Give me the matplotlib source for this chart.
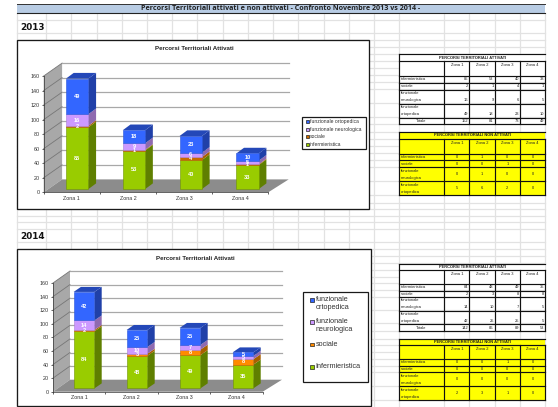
import matplotlib
matplotlib.use("Agg")
import matplotlib.pyplot as plt
from matplotlib.patches import Polygon, Rectangle

plt.rcParams['font.family'] = ['Liberation Sans', 'DejaVu Sans']

# ---------- data ----------
zones = ['Zona 1', 'Zona 2', 'Zona 3', 'Zona 4']
series = ['infermieristica', 'sociale', 'funzionale\nneurologica', 'funzionale\nortopedica']
legend_2013 = ['funzionale ortopedica', 'funzionale neurologica', 'sociale', 'infermieristica']
legend_2014 = ['funzionale\nortopedica', 'funzionale\nneurologica', 'sociale', 'Infermieristica']

inf_2013 = [85, 53, 40, 33]
soc_2013 = [2, 1, 4, 1]
neu_2013 = [16, 9, 6, 5]
ort_2013 = [49, 18, 23, 10]
tot_2013 = [152, 81, 73, 49]

inf_2014 = [84, 48, 49, 35]
soc_2014 = [2, 3, 8, 8]
neu_2014 = [14, 10, 7, 5]
ort_2014 = [42, 25, 25, 5]
tot_2014 = [142, 86, 89, 53]

non_inf_2013 = [0, 1, 0, 0]
non_soc_2013 = [0, 0, 1, 0]
non_neu_2013 = [0, 1, 0, 0]
non_ort_2013 = [5, 6, 2, 0]

non_inf_2014 = [0, 0, 1, 0]
non_soc_2014 = [0, 0, 0, 0]
non_neu_2014 = [0, 0, 0, 0]
non_ort_2014 = [2, 3, 1, 0]

y_ticks = [0, 20, 40, 60, 80, 100, 120, 140, 160]

sheet_title = 'Percorsi Territoriali attivati e non attivati - Confronto Novembre 2013 vs 2014 -'
chart_title = 'Percorsi Territoriali Attivati'
table_active = 'PERCORSI TERRITORIALI ATTIVATI'
table_inactive = 'PERCORSI TERRITORIALI NON ATTIVATI'

# ---------- styles ----------
W, H = 558, 407
FRONT = ['#99cc00', '#ff8a00', '#cc99ff', '#3366ff']
FRONT_13 = ['#99cc00', '#c86a00', '#cc99ff', '#3366ff']
EDGE = ['#6f9400', '#b86400', '#a87fd6', '#2a55d8']
SIDE = ['#5f7f00', '#a86000', '#8f6ab0', '#2040a8']
TOP = '#2448b8'
GRID = '#e2e2e2'

fig = plt.figure(figsize=(W / 100, H / 100), dpi=100, facecolor='white')
bg = fig.add_axes([0, 0, 1, 1])
bg.set_xlim(0, W)
bg.set_ylim(H, 0)
bg.axis('off')

# ---------- spreadsheet grid ----------
col_x = [17.3, 46, 71.3, 96.7, 121.7, 147, 172.3, 197.3, 222.7, 248, 273, 298.3,
         323.7, 349, 374.3, 399.3, 444.3, 469.3, 494.7, 520, 545]
row_y = [20, 33.3, 40, 46.7, 54, 61, 68, 75, 82.3, 89.3, 103.3, 117.3, 124.3, 131.7,
         138.7, 145.7, 153, 160, 167.3, 181.3, 195.3, 202.5, 209.3, 215.5, 222.3, 229,
         242.3, 249.3, 256.3, 263.3, 270, 276.7, 283.3, 290, 296.7, 310, 323.3, 331,
         338.5, 345, 352, 359, 365.7, 372.3, 386.3, 400]
for x in col_x:
    bg.plot([x, x], [13, 407], color=GRID, lw=0.9, zorder=1)
for y in row_y:
    bg.plot([17.3, 545], [y, y], color=GRID, lw=0.9, zorder=1)

bg.add_patch(Rectangle((17.3, 4), 527.7, 9.3, fc='#b8cce4', ec='none', zorder=2))
bg.plot([17.3, 545], [4, 4], color='#333333', lw=0.7, zorder=3)
bg.plot([17.3, 545], [13.3, 13.3], color='#222222', lw=0.8, zorder=3)
bg.text(281, 8.7, sheet_title, family='Open Sans', weight='bold', fontsize=5.1,
        ha='center', va='center', color='#222222', zorder=4)
bg.text(20, 27.8, '2013', family='DejaVu Sans', weight='bold', fontsize=6.4,
        ha='left', va='center', color='#111111', zorder=4)
bg.text(20, 236.8, '2014', family='DejaVu Sans', weight='bold', fontsize=6.4,
        ha='left', va='center', color='#111111', zorder=4)


# ---------- 3D-looking charts ----------
def chart(frame, plane, wall, bar, values, title_xy, title_fs, front_cols):
    fx0, fy0, fx1, fy1 = frame
    bg.add_patch(Rectangle((fx0, fy0), fx1 - fx0, fy1 - fy0, fc='white', ec='#1a1a1a',
                           lw=0.95, zorder=5))
    bg.text(*title_xy, chart_title, weight='bold', fontsize=title_fs, ha='center',
            va='center', color='#222222', zorder=6)

    x0, x1, y0, y160 = plane
    ax = fig.add_axes([x0 / W, 1 - y0 / H, (x1 - x0) / W, (y0 - y160) / H], zorder=3)
    ax.patch.set_alpha(0)
    ax.set_xlim(0, 4)
    ax.set_ylim(0, 160)
    ux = (x1 - x0) / 4
    uy = (y0 - y160) / 160
    dx, dy, dxr = wall[0] / ux, wall[1] / uy, wall[2] / ux

    ax.add_patch(Polygon([(dx, dy), (4 + dxr, dy), (4 + dxr, 160 + dy), (dx, 160 + dy)],
                         fc='white', ec='none', clip_on=False, zorder=1))
    ax.add_patch(Polygon([(0, 0), (0, 160), (dx, 160 + dy), (dx, dy)],
                         fc='#a8a8a8', ec='none', clip_on=False, zorder=1))
    ax.add_patch(Polygon([(0, 0), (4, 0), (4 + dxr, dy), (dx, dy)],
                         fc='#8c8c8c', ec='none', clip_on=False, zorder=1.5))
    for t in y_ticks[1:]:
        ax.plot([0, dx], [t, t + dy], color='#777777', lw=0.6, clip_on=False, zorder=2)
        ax.plot([dx, 4 + dxr], [t + dy, t + dy], color='#a8a8a8', lw=0.9, clip_on=False, zorder=2)

    off_x, off_y, width, depth_x, depth_y, step = bar
    bx, by = depth_x / ux, depth_y / uy
    w = width / ux
    oy = off_y / uy
    for i in range(len(zones)):
        left = (i + 0.5) * step + off_x / ux - w / 2
        bottom = oy
        for k, vals in enumerate(values):
            v = vals[i]
            ax.add_patch(Polygon([(left + w, bottom), (left + w + bx, bottom + by),
                                  (left + w + bx, bottom + v + by), (left + w, bottom + v)],
                                 fc=SIDE[k], ec='none', clip_on=False, zorder=3))
            ax.add_patch(Rectangle((left, bottom), w, v, fc=front_cols[k], ec=EDGE[k], lw=0.4,
                                   clip_on=False, zorder=4))
            ax.text(left + w / 2, bottom + v / 2, str(v), color='white', weight='bold',
                    fontsize=4.1, ha='center', va='center', zorder=6)
            bottom += v
        ax.add_patch(Polygon([(left, bottom), (left + w, bottom), (left + w + bx, bottom + by),
                              (left + bx, bottom + by)], fc=TOP, ec='none', clip_on=False, zorder=3))

    ax.set_yticks(y_ticks)
    ax.set_yticklabels([str(t) for t in y_ticks], fontsize=3.9, color='#333333')
    ax.set_xticks([0, 1, 2, 3, 4])
    ax.set_xticklabels([])
    ax.set_xticks([0.5, 1.5, 2.5, 3.5], minor=True)
    ax.set_xticklabels(zones, minor=True, fontsize=3.9, color='#333333')
    ax.tick_params(axis='y', length=1.5, width=0.5, pad=1.5, color='#222222')
    ax.tick_params(axis='x', which='major', length=1.2, width=0.5, color='#222222')
    ax.tick_params(axis='x', which='minor', length=0, pad=2.6)
    for s in ('top', 'right'):
        ax.spines[s].set_visible(False)
    for s in ('left', 'bottom'):
        ax.spines[s].set_linewidth(0.5)
        ax.spines[s].set_color('#333333')


chart((17.3, 40, 368.7, 208.7), (43.7, 268.3, 192.3, 76), (18.4, 12.9, 20.4),
      (5.1, 3.2, 22.4, 7.7, 5.7, 1.011),
      [inf_2013, soc_2013, neu_2013, ort_2013], (194, 49), 4.45, FRONT_13)
chart((17.3, 249.3, 370.7, 406.3), (53, 262.7, 391.7, 283), (17, 12, 19.3),
      (4.5, 3.3, 20.8, 7.3, 5, 1.011),
      [inf_2014, soc_2014, neu_2014, ort_2014], (195.3, 258), 4.4, FRONT)


# ---------- legends ----------
def legend(box, labels, colours, sw_x, sw, ys, text_x, fs, line_gap):
    x0, y0, x1, y1 = box
    bg.add_patch(Rectangle((x0, y0), x1 - x0, y1 - y0, fc='white', ec='#1a1a1a', lw=0.9, zorder=5))
    for lab, col, y in zip(labels, colours, ys):
        bg.add_patch(Rectangle((sw_x, y - sw / 2), sw, sw, fc=col, ec='#222222', lw=0.5, zorder=6))
        for j, part in enumerate(lab.split('\n')):
            bg.text(text_x, y + j * line_gap, part, fontsize=fs, ha='left', va='center',
                    color='#333333', zorder=6)


legend((301.7, 117.3, 366, 148.7), legend_2013, FRONT_13[::-1], 305.6, 3,
       [121.5, 129, 136.7, 144.3], 309.5, 3.65, 0)
legend((303, 292, 368.3, 382), legend_2014, FRONT[::-1], 310, 3.6,
       [299.8, 321.8, 344.3, 366.8], 315.7, 5.2, 8)


# ---------- tables ----------
TX = [399.3, 444.3, 469.3, 494.7, 520, 545]


def table(rows_y, title, rows, fill, center):
    top = rows_y[0]
    bottom = rows_y[-1]
    bg.add_patch(Rectangle((TX[0], top), TX[-1] - TX[0],
                           (bottom if fill else rows_y[2]) - top,
                           fc=fill or 'white', ec='none', zorder=5))
    for y in rows_y:
        bg.plot([TX[0], TX[-1]], [y, y], color='#111111', lw=0.85, zorder=6)
    bg.plot([TX[0], TX[0]], [top, bottom], color='#111111', lw=0.85, zorder=6)
    for x in TX[1:]:
        bg.plot([x, x], [rows_y[1], bottom], color='#111111', lw=0.85, zorder=6)
    bg.text((TX[0] + TX[-1]) / 2, (rows_y[0] + rows_y[1]) / 2, title, weight='bold', fontsize=2.85,
            ha='center', va='center', color='#222222', zorder=7)
    for c, z in enumerate(zones):
        bg.text((TX[c + 1] + TX[c + 2]) / 2, rows_y[1] + 3.5, z, fontsize=2.9, ha='center', va='center',
                color='#222222', zorder=7)
    for r, (lab, vals) in enumerate(rows):
        ya, yb = rows_y[r + 2], rows_y[r + 3]
        if lab == 'Totale':
            bg.text(TX[0] + 22, (ya + yb) / 2, lab, fontsize=2.9, ha='center', va='center', color='#222222', zorder=7)
        else:
            parts = lab.split('\n')
            for j, part in enumerate(parts):
                bg.text(TX[0] + 1.2, yb - 3.4 - 7 * (len(parts) - 1 - j), part, fontsize=3.0, ha='left',
                        va='center', color='#222222', zorder=7)
        for c, v in enumerate(vals):
            if center:
                bg.text((TX[c + 1] + TX[c + 2]) / 2, (ya + yb) / 2, str(v), fontsize=2.9, ha='center',
                        va='center', color='#222222', zorder=7)
            else:
                bg.text(TX[c + 2] - 1, yb - 3.3, str(v), fontsize=2.9, ha='right', va='center',
                        color='#222222', zorder=7)


table([54.3, 61, 75.7, 82.7, 89.7, 103.7, 117.7, 124.3], table_active,
      list(zip(series + ['Totale'], [inf_2013, soc_2013, neu_2013, ort_2013, tot_2013])), None, False)
table([131.7, 139, 153.7, 160.3, 167.3, 181.3, 195.3], table_inactive,
      list(zip(series, [non_inf_2013, non_soc_2013, non_neu_2013, non_ort_2013])), '#ffff00', True)
table([263.7, 270.3, 284, 290.7, 297.3, 310.7, 324.3, 331], table_active,
      list(zip(series + ['Totale'], [inf_2014, soc_2014, neu_2014, ort_2014, tot_2014])), None, False)
table([338.7, 345, 359, 365.7, 372.3, 386.3, 400], table_inactive,
      list(zip(series, [non_inf_2014, non_soc_2014, non_neu_2014, non_ort_2014])), '#ffff00', True)

fig.savefig('out.png', dpi=100, facecolor='white')
